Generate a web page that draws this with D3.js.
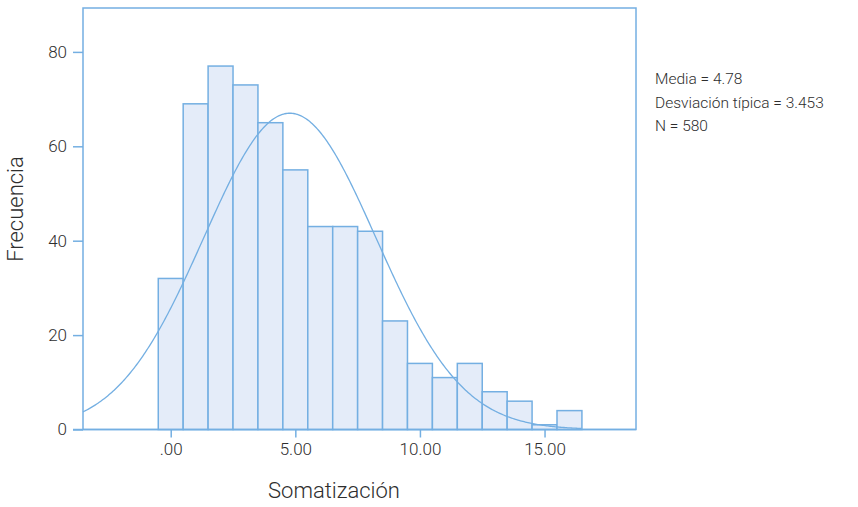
<!DOCTYPE html>
<html>
<head>
<meta charset="utf-8">
<script src="https://cdn.jsdelivr.net/npm/d3@7"></script>
<style>
  body { margin: 0; background: #fff; }
  text { font-family: Roboto, sans-serif; font-weight: 300; fill: #2e2e2e; }
</style>
</head>
<body>
<svg id="chart" width="858" height="507"></svg>
<script>
// histogram bins (centre of each 1-unit bin) and their counts
const binCenters = [0, 1, 2, 3, 4, 5, 6, 7, 8, 9, 10, 11, 12, 13, 14, 15, 16];
const binCounts = [32, 69, 77, 73, 65, 55, 43, 43, 42, 23, 14, 11, 14, 8, 6, 1, 4];
const xTicks = [0, 5, 10, 15];
const yTicks = [0, 20, 40, 60, 80];
const statsLines = ['Media = 4.78', 'Desviación típica = 3.453', 'N = 580'];
const mean = 4.78;
const sd = 3.453;
const total = 580;

const stroke = '#74afe2';
const fill = '#e4ecf9';

const svg = d3.select('#chart');

const plotLeft = 83, plotRight = 636, plotTop = 8, plotBottom = 429.5;

const x = d3.scaleLinear()
  .domain([-3.52, 18.67])
  .range([plotLeft, plotRight]);

const y = d3.scaleLinear()
  .domain([0, 89.3])
  .range([plotBottom, plotTop]);

// frame
svg.append('rect')
  .attr('x', plotLeft)
  .attr('y', plotTop)
  .attr('width', plotRight - plotLeft)
  .attr('height', plotBottom - plotTop)
  .style('fill', 'none')
  .style('stroke', stroke)
  .style('stroke-width', 1.5);

// bars
svg.append('g')
  .selectAll('rect')
  .data(binCenters)
  .enter()
  .append('rect')
  .attr('x', (d) => x(d - 0.5))
  .attr('width', (d) => x(d + 0.5) - x(d - 0.5))
  .attr('y', (d, i) => y(binCounts[i]))
  .attr('height', (d, i) => y(0) - y(binCounts[i]))
  .style('fill', fill)
  .style('stroke', stroke)
  .style('stroke-width', 1.5);

// normal curve fitted with the stats shown in the legend
const curvePts = d3.range(-3.52, 16.5001, 0.05).map((v) => {
  const z = (v - mean) / sd;
  return [v, total / (sd * Math.sqrt(2 * Math.PI)) * Math.exp(-0.5 * z * z)];
});

svg.append('path')
  .datum(curvePts)
  .attr('d', d3.line().x((d) => x(d[0])).y((d) => y(d[1])))
  .style('fill', 'none')
  .style('stroke', stroke)
  .style('stroke-width', 1.3);

// axes
const yAxis = svg.append('g')
  .attr('transform', `translate(${plotLeft}, 0)`)
  .call(d3.axisLeft(y).tickValues(yTicks).tickSize(10).tickPadding(6).tickFormat(d3.format('d')));

const xAxis = svg.append('g')
  .attr('transform', `translate(0, ${plotBottom})`)
  .call(d3.axisBottom(x).tickValues(xTicks).tickSize(8).tickPadding(5)
    .tickFormat((d) => d === 0 ? '.00' : d3.format('.2f')(d)));

[yAxis, xAxis].forEach((a) => {
  a.select('.domain').remove();
  a.selectAll('line').style('stroke', stroke).style('stroke-width', 1.5);
  a.selectAll('text')
    .style('font-size', '17px')
    .style('font-family', 'Roboto, sans-serif')
    .style('font-weight', 300)
    .style('fill', '#2e2e2e');
});

// baseline runs out past the frame like the tick marks
svg.append('line')
  .attr('x1', plotLeft - 10)
  .attr('x2', plotRight)
  .attr('y1', plotBottom)
  .attr('y2', plotBottom)
  .style('stroke', stroke)
  .style('stroke-width', 1.5);

// titles
svg.append('text')
  .attr('x', 334)
  .attr('y', 498)
  .attr('text-anchor', 'middle')
  .style('font-size', '22px')
  .text('Somatización');

svg.append('text')
  .attr('transform', 'translate(23, 209) rotate(-90)')
  .attr('text-anchor', 'middle')
  .style('font-size', '22px')
  .text('Frecuencia');

svg.append('g')
  .selectAll('text')
  .data(statsLines)
  .enter()
  .append('text')
  .attr('x', 655)
  .attr('y', (d, i) => 84 + i * 23.5)
  .style('font-size', '15.5px')
  .text((d) => d);
</script>
</body>
</html>
